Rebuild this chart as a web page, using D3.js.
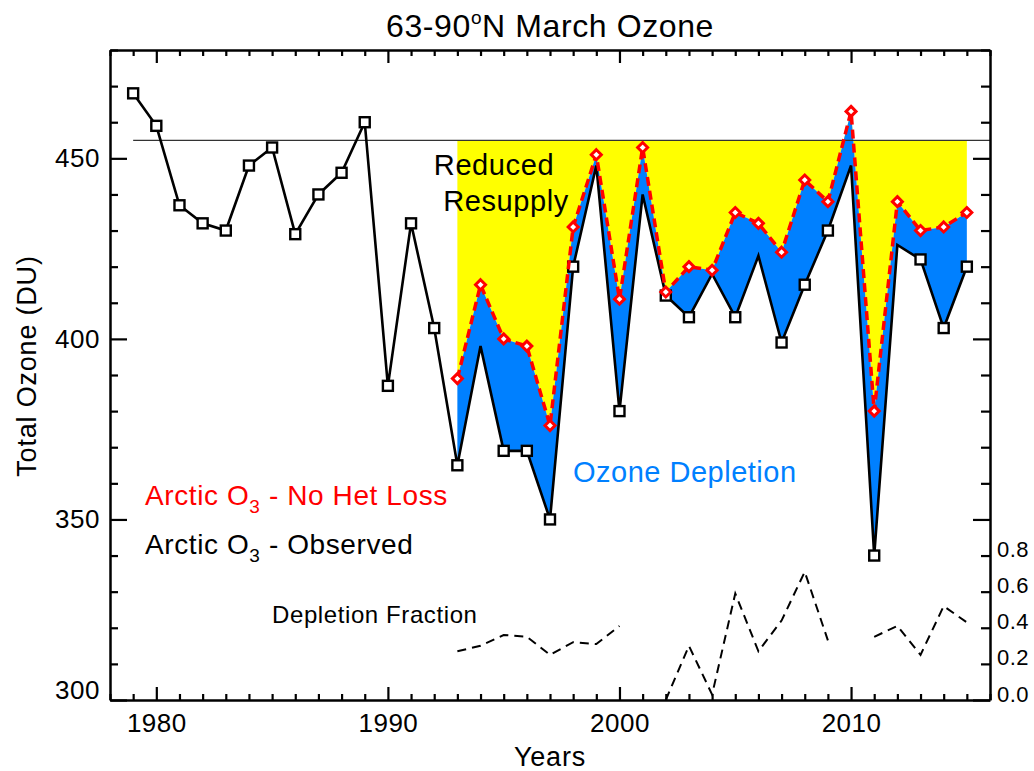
<!DOCTYPE html>
<html>
<head>
<meta charset="utf-8">
<script src="https://cdn.jsdelivr.net/npm/d3@7"></script>
<style>
  body { margin: 0; background: #fff; }
  text { font-family: "Liberation Sans", Arial, sans-serif; }
</style>
</head>
<body>
<script>
var width = 1034,
    height = 771;

// observed March ozone, 1979-2015 (DU)
var years = [1979, 1980, 1981, 1982, 1983, 1984, 1985, 1986, 1987, 1988, 1989, 1990, 1991, 1992,
             1993, 1994, 1995, 1996, 1997, 1998, 1999, 2000, 2001, 2002, 2003, 2004, 2005, 2006,
             2007, 2008, 2009, 2010, 2011, 2012, 2013, 2014, 2015];
var observed = [468, 459, 437, 432, 430, 448, 453, 429, 440, 446, 460, 387, 432, 403,
                365, 398, 369, 369, 350, 420, 448, 380, 440, 412, 406, 418, 406, 423,
                399, 415, 430, 448, 340, 426, 422, 403, 420];

// no heterogeneous loss, 1993-2015
var modelYears = [1993, 1994, 1995, 1996, 1997, 1998, 1999, 2000, 2001, 2002, 2003, 2004,
                  2005, 2006, 2007, 2008, 2009, 2010, 2011, 2012, 2013, 2014, 2015];
var noHetLoss = [389, 415, 400, 398, 376, 431, 451, 411, 453, 413, 420, 419,
                 435, 432, 424, 444, 438, 463, 380, 438, 430, 431, 435];

// depletion fraction (right axis), gaps where not defined
var depletionFraction = [0.27, 0.30, 0.36, 0.35, 0.25, 0.32, 0.31, 0.41, null, 0.00, 0.30, 0.03,
                         0.59, 0.27, 0.44, 0.71, 0.33, null, 0.35, 0.41, 0.25, 0.52, 0.43];

var resupplyLevel = 455;
var leftTicks = [300, 310, 320, 330, 340, 350, 360, 370, 380, 390, 400, 410, 420, 430, 440, 450, 460, 470, 480];
var fracTicks = [0.0, 0.2, 0.4, 0.6, 0.8];

var svg = d3.select("body").append("svg").attr("width", width).attr("height", height);

var x = d3.scaleLinear().domain([1978, 2016]).range([110, 990]);
var y = d3.scaleLinear().domain([300, 480]).range([700, 50]);
var yf = d3.scaleLinear().domain([0, 3.6]).range([700, 50]);

var obsByYear = {};
years.forEach((yr, i) => obsByYear[yr] = observed[i]);
var model = modelYears.map((yr, i) => ({year: yr, nohet: noHetLoss[i], obs: obsByYear[yr], frac: depletionFraction[i]}));

// yellow: reduced resupply
svg.append("path")
    .datum(model)
    .attr("fill", "#ffff00")
    .attr("d", d3.area().x(d => x(d.year)).y0(y(resupplyLevel)).y1(d => y(d.nohet)));

// blue: ozone depletion
svg.append("path")
    .datum(model)
    .attr("fill", "#0080ff")
    .attr("d", d3.area().x(d => x(d.year)).y0(d => y(d.obs)).y1(d => y(d.nohet)));

// reference line
svg.append("line")
    .attr("x1", x(years[0])).attr("x2", x(2016))
    .attr("y1", y(resupplyLevel)).attr("y2", y(resupplyLevel))
    .attr("stroke", "#333").attr("stroke-width", 1.2);

// observed line
var obsData = years.map((yr, i) => ({year: yr, v: observed[i]}));
svg.append("path")
    .datum(obsData)
    .attr("fill", "none").attr("stroke", "#000").attr("stroke-width", 2.6)
    .attr("stroke-linejoin", "miter")
    .attr("d", d3.line().x(d => x(d.year)).y(d => y(d.v)));

// squares (hidden under the blue where observed is a local peak)
svg.selectAll("rect.obs").data(obsData.filter(function (d, i) {
        if (d.year < 1993 || i == 0 || i == obsData.length - 1) return true;
        return !(d.v > obsData[i - 1].v && d.v > obsData[i + 1].v);
    }))
    .enter().append("rect")
    .attr("class", "obs")
    .attr("x", d => x(d.year) - 5).attr("y", d => y(d.v) - 5)
    .attr("width", 10).attr("height", 10)
    .attr("fill", "#fff").attr("stroke", "#000").attr("stroke-width", 2.4);

// no het loss dashed line
svg.append("path")
    .datum(model)
    .attr("fill", "none").attr("stroke", "#ff0000").attr("stroke-width", 3.5)
    .attr("stroke-dasharray", "9,5")
    .attr("d", d3.line().x(d => x(d.year)).y(d => y(d.nohet)));

svg.selectAll("path.diam").data(model).enter().append("path")
    .attr("class", "diam")
    .attr("d", d => {
        var cx = x(d.year), cy = y(d.nohet), r = 5;
        return "M" + cx + "," + (cy - r) + "L" + (cx + r) + "," + cy + "L" + cx + "," + (cy + r) + "L" + (cx - r) + "," + cy + "Z";
    })
    .attr("fill", "#fff").attr("stroke", "#ff0000").attr("stroke-width", 3);

// depletion fraction
svg.append("path")
    .datum(model)
    .attr("fill", "none").attr("stroke", "#000").attr("stroke-width", 2)
    .attr("stroke-dasharray", "9,6")
    .attr("d", d3.line().defined(d => d.frac !== null).x(d => x(d.year)).y(d => yf(d.frac)));

// axes
var yearTicks = d3.range(1978, 2017);
function styleAxis(g) {
    g.select(".domain").attr("stroke-width", 2.5);
    g.selectAll(".tick line").attr("stroke-width", 2.2);
    g.selectAll(".tick text").attr("font-family", "Liberation Sans, Arial, sans-serif").attr("fill", "#000");
}

var gb = svg.append("g").attr("transform", "translate(0,700)")
    .call(d3.axisBottom(x).tickValues(yearTicks).tickSizeInner(-6).tickSizeOuter(0).tickPadding(14)
        .tickFormat(d => d % 10 == 0 ? d : ""));
gb.selectAll(".tick line").attr("y2", d => d % 10 == 0 ? -13 : -6);
gb.selectAll(".tick text").attr("font-size", 26).attr("letter-spacing", 0.5);
styleAxis(gb);

var gt = svg.append("g").attr("transform", "translate(0,50)")
    .call(d3.axisTop(x).tickValues(yearTicks).tickSizeInner(-6).tickSizeOuter(0).tickFormat(""));
gt.selectAll(".tick line").attr("y2", d => d % 10 == 0 ? 13 : 6);
styleAxis(gt);

var gl = svg.append("g").attr("transform", "translate(110,0)")
    .call(d3.axisLeft(y).tickValues(leftTicks).tickSizeInner(-8).tickSizeOuter(0).tickPadding(10)
        .tickFormat(d => d % 50 == 0 ? d : ""));
gl.selectAll(".tick line").attr("x2", d => d % 50 == 0 ? 17 : 8);
gl.selectAll(".tick text").attr("font-size", 26).attr("letter-spacing", 0.5)
    .attr("dy", d => d == 300 ? "-0.05em" : "0.32em");
styleAxis(gl);

var gr = svg.append("g").attr("transform", "translate(990,0)")
    .call(d3.axisRight(y).tickValues(leftTicks).tickSizeInner(-9).tickSizeOuter(0).tickFormat(""));
gr.selectAll(".tick line").attr("x2", d => d % 50 == 0 ? -17 : -9);
styleAxis(gr);

var gf = svg.append("g").attr("transform", "translate(990,0)")
    .call(d3.axisRight(yf).tickValues(fracTicks).tickSize(0).tickPadding(7).tickFormat(d3.format(".1f")));
gf.select(".domain").remove();
gf.selectAll(".tick text").attr("font-size", 22).attr("letter-spacing", 0.5).attr("dy", "0.05em");
styleAxis(gf);

// titles
svg.append("text").attr("x", 550).attr("y", 37).attr("text-anchor", "middle").attr("font-size", 32)
    .attr("letter-spacing", 0.6)
    .html('63-90<tspan font-size="19" dy="-13">o</tspan><tspan dy="13">N March Ozone</tspan>');
svg.append("text").attr("x", 550).attr("y", 766).attr("text-anchor", "middle").attr("font-size", 27)
    .attr("letter-spacing", 0.8).text("Years");
svg.append("text").attr("transform", "translate(36,366) rotate(-90)").attr("text-anchor", "middle")
    .attr("font-size", 27).attr("letter-spacing", 0.8).text("Total Ozone (DU)");

// annotations
svg.append("text").attr("x", 494).attr("y", 175).attr("text-anchor", "middle").attr("font-size", 29)
    .attr("letter-spacing", 0.6).text("Reduced");
svg.append("text").attr("x", 506).attr("y", 211).attr("text-anchor", "middle").attr("font-size", 29)
    .attr("letter-spacing", 0.6).text("Resupply");
svg.append("text").attr("x", 573).attr("y", 482).attr("font-size", 29).attr("letter-spacing", 0.5)
    .attr("fill", "#0080ff").text("Ozone Depletion");
svg.append("text").attr("x", 145).attr("y", 505).attr("font-size", 28).attr("letter-spacing", 0.6)
    .attr("fill", "#ff0000")
    .html('Arctic O<tspan font-size="19" dy="8">3</tspan><tspan dy="-8"> - No Het Loss</tspan>');
svg.append("text").attr("x", 145).attr("y", 554).attr("font-size", 28).attr("letter-spacing", 0.6)
    .attr("fill", "#000")
    .html('Arctic O<tspan font-size="19" dy="8">3</tspan><tspan dy="-8"> - Observed</tspan>');
svg.append("text").attr("x", 272).attr("y", 623).attr("font-size", 24).attr("letter-spacing", 0.6)
    .text("Depletion Fraction");
</script>
</body>
</html>
